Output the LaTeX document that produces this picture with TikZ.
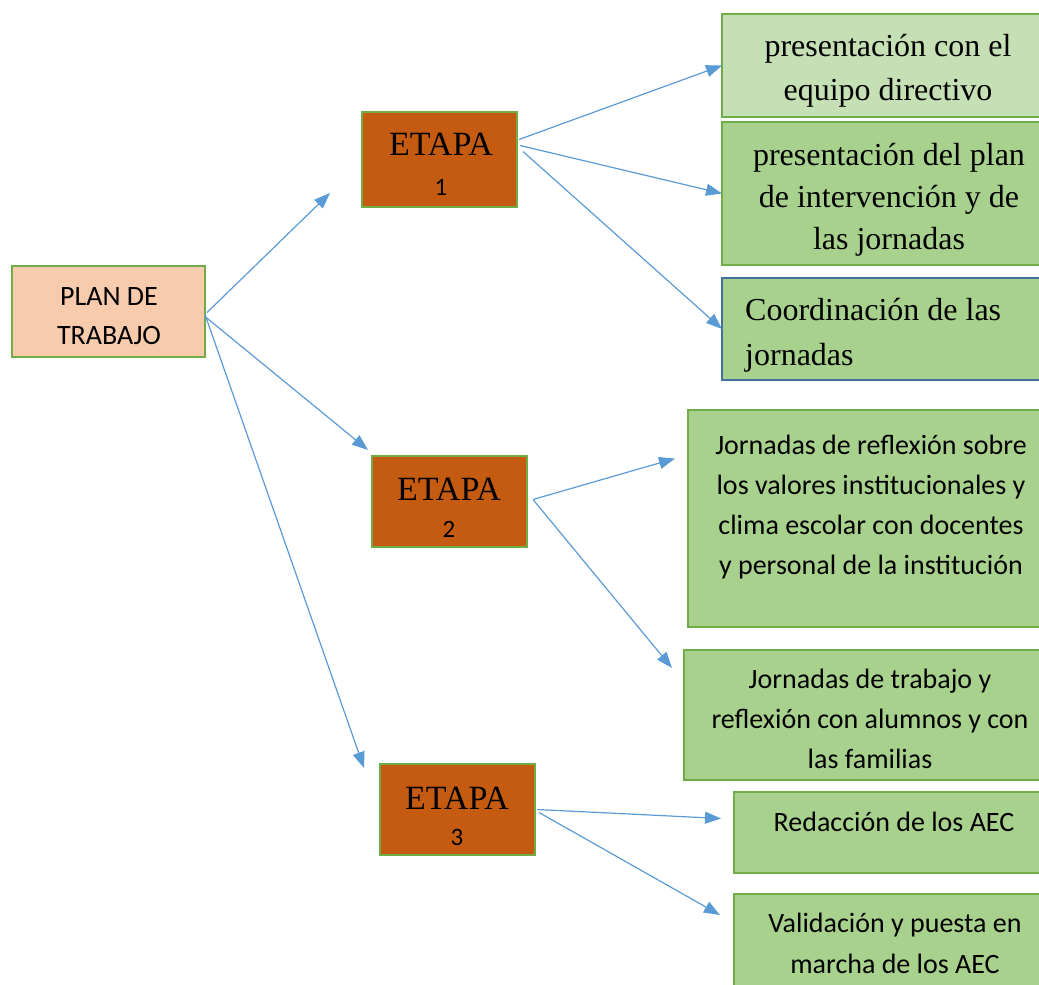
\documentclass[tikz,border=0pt]{standalone}
\usepackage{fontspec}
\setmainfont{Liberation Serif}
\newfontfamily\calib{Carlito}
\usetikzlibrary{arrows.meta,calc}
\definecolor{gborder}{HTML}{70AD47}
\definecolor{bborder}{HTML}{41719C}
\definecolor{lgfill}{HTML}{C5E0B4}
\definecolor{gfill}{HTML}{A9D18E}
\definecolor{pfill}{HTML}{F8CBAD}
\definecolor{ofill}{HTML}{C55A11}
\definecolor{arr}{HTML}{5B9BD5}
\begin{document}
\begin{tikzpicture}[x=1pt,y=-1pt,
  box/.style={draw=gborder,line width=2.5pt,inner sep=0pt,outer sep=0pt,anchor=north west},
  conn/.style={draw=arr,line width=1.2pt,-{Triangle[length=16pt,width=12pt]}},
  tms/.style={font=\fontsize{32}{43}\selectfont,align=center,anchor=base,inner sep=0pt},
  tmsl/.style={font=\fontsize{32}{45}\selectfont,align=left,anchor=base west,inner sep=0pt},
  clb/.style={font=\calib\fontsize{28}{40}\selectfont,align=center,anchor=base,inner sep=0pt},
  etp/.style={font=\fontsize{34}{34}\selectfont,anchor=base,inner sep=0pt},
  num/.style={font=\calib\fontsize{25}{25}\selectfont,anchor=base,inner sep=0pt}]
\useasboundingbox (0,0) rectangle (1039,985);
\clip (0,0) rectangle (1039,985);
% boxes
\node[box,fill=pfill,minimum width=193pt,minimum height=91pt] (plan) at (12,266) {};
\node[box,fill=ofill,minimum width=155pt,minimum height=95pt] (e1) at (362,112) {};
\node[box,fill=ofill,minimum width=155pt,minimum height=91pt] (e2) at (372,456) {};
\node[box,fill=ofill,minimum width=155pt,minimum height=91pt] (e3) at (380,764) {};
\node[box,fill=lgfill,minimum width=330pt,minimum height=103pt] (A) at (722,14) {};
\node[box,fill=gfill,minimum width=330pt,minimum height=143pt] (B) at (722,122) {};
\node[box,draw=bborder,fill=gfill,minimum width=330pt,minimum height=102pt] (C) at (722,278) {};
\node[box,fill=gfill,minimum width=364pt,minimum height=217pt] (D) at (688,410) {};
\node[box,fill=gfill,minimum width=368pt,minimum height=130pt] (E) at (684,650) {};
\node[box,fill=gfill,minimum width=318pt,minimum height=81pt] (F) at (734,792) {};
\node[box,fill=gfill,minimum width=318pt,minimum height=100pt] (G) at (734,894) {};
% texts (multi-line nodes are placed at the baseline of their last line)
\node[clb,font=\calib\fontsize{28}{39}\selectfont] (tplan) at (109,344) {PLAN DE\\TRABAJO};
\node[etp] (te1) at (441,155) {ETAPA};
\node[num] (n1) at (441,195) {1};
\node[etp] (te2) at (449,500) {ETAPA};
\node[num] (n2) at (449,537) {2};
\node[etp] (te3) at (457,809) {ETAPA};
\node[num] (n3) at (457,845) {3};
\node[tms,font=\fontsize{32}{44}\selectfont] (tA) at (888,100) {presentación con el\\equipo directivo};
\node[tms,font=\fontsize{32}{42}\selectfont] (tB) at (889,249) {presentación del plan\\de intervención y de\\las jornadas};
\node[tmsl] (tC) at (745,365) {Coordinación de las\\jornadas};
\node[clb] (tD) at (871,574) {Jornadas de reflexión sobre\\los valores institucionales y\\clima escolar con docentes\\y personal de la institución};
\node[clb] (tE) at (870,768) {Jornadas de trabajo y\\reflexión con alumnos y con\\las familias};
\node[clb] (tF) at (894,831) {Redacción de los AEC};
\node[clb,font=\calib\fontsize{28}{41}\selectfont] (tG) at (895,973) {Validación y puesta en\\marcha de los AEC};
% connectors
\draw[conn] ($(plan.east)+(2,1)$) -- ($(e1.south west)+(-32,-14)$);
\draw[conn] ($(plan.east)+(0,5)$) -- ($(e2.north west)+(-4,-6)$);
\draw[conn] ($(plan.east)+(0,3)$) -- ($(e3.north west)+(-16,4)$);
\draw[conn] ($(e1.east)+(2,-20)$) -- (A.west);
\draw[conn] ($(e1.east)+(3,-14)$) -- (B.west);
\draw[conn] ($(e1.east)+(6,-8)$) -- (C.west);
\draw[conn] ($(e2.east)+(6,-2)$) -- ($(D.west)+(-13,-60)$);
\draw[conn] ($(e2.east)+(6,-2)$) -- ($(E.north west)+(-12,18)$);
\draw[conn] ($(e3.east)+(2,0)$) -- ($(F.west)+(-13,-14)$);
\draw[conn] ($(e3.east)+(4,3)$) -- ($(G.north west)+(-14,21)$);
\end{tikzpicture}
\end{document}
